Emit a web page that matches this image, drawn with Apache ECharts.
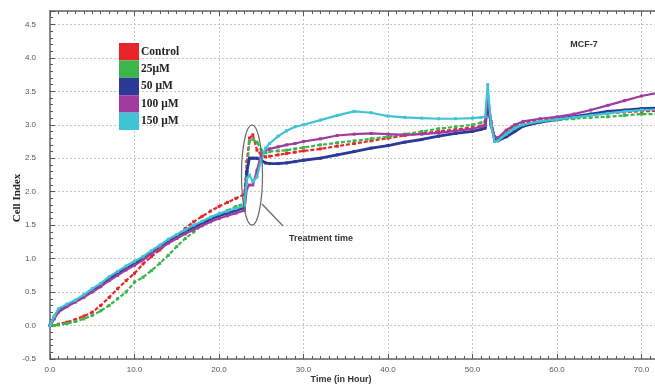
<!DOCTYPE html>
<html><head><meta charset="utf-8">
<script src="https://cdn.jsdelivr.net/npm/echarts@6/dist/echarts.min.js"></script>
<style>html,body{margin:0;padding:0;background:#fff}#c{width:655px;height:385px}</style>
</head><body><div id="c"></div>
<script>
const times = [0,0.5,1,2,3,4,5,6,7,8,9,10,11,12,13,14,15,16,17,18,19,20,21,22,23,23.3,23.6,24,24.5,25,25.5,26,27,28,29,30,32,34,36,38,40,42,44,46,48,50,51,51.5,51.8,52.2,52.6,53,54,55,56,58,60,62,64,66,68,70,72];
const control = [0,0,0.02,0.05,0.09,0.14,0.2,0.3,0.42,0.55,0.67,0.78,0.92,1.03,1.13,1.24,1.34,1.45,1.55,1.63,1.71,1.78,1.84,1.9,1.96,2.45,2.8,2.85,2.62,2.55,2.52,2.53,2.55,2.57,2.59,2.61,2.64,2.68,2.72,2.76,2.8,2.84,2.87,2.9,2.93,2.96,2.98,3.0,3.28,3.0,2.82,2.8,2.9,2.98,3.03,3.07,3.1,3.12,3.15,3.17,3.19,3.2,3.21];
const uM25 = [0,0,0.01,0.03,0.06,0.1,0.15,0.22,0.3,0.4,0.5,0.65,0.72,0.82,0.93,1.05,1.18,1.3,1.4,1.5,1.58,1.66,1.72,1.78,1.82,2.3,2.75,2.78,2.74,2.62,2.58,2.6,2.61,2.62,2.64,2.66,2.7,2.73,2.76,2.79,2.82,2.86,2.9,2.94,2.97,3.0,3.03,3.05,3.3,3.02,2.82,2.8,2.88,2.96,3.0,3.04,3.07,3.09,3.11,3.12,3.14,3.16,3.16];
const uM50 = [0,0.12,0.22,0.3,0.36,0.44,0.52,0.6,0.7,0.78,0.85,0.92,1.0,1.1,1.18,1.27,1.34,1.41,1.47,1.53,1.59,1.64,1.68,1.72,1.76,2.3,2.5,2.5,2.5,2.47,2.43,2.42,2.42,2.43,2.45,2.47,2.5,2.55,2.6,2.65,2.69,2.74,2.78,2.83,2.87,2.9,2.93,2.95,3.38,3.0,2.8,2.76,2.82,2.9,2.98,3.04,3.08,3.12,3.16,3.2,3.22,3.24,3.25];
const uM100 = [0,0.1,0.2,0.28,0.35,0.42,0.5,0.58,0.67,0.75,0.83,0.9,0.98,1.07,1.15,1.23,1.3,1.37,1.43,1.49,1.55,1.6,1.64,1.68,1.72,2.05,2.1,2.1,2.32,2.56,2.62,2.64,2.67,2.7,2.72,2.75,2.79,2.84,2.86,2.87,2.86,2.85,2.86,2.88,2.91,2.94,2.97,2.99,3.42,3.05,2.82,2.8,2.92,3.0,3.05,3.09,3.12,3.16,3.22,3.29,3.36,3.43,3.48];
const uM150 = [0,0.14,0.25,0.32,0.38,0.46,0.55,0.63,0.73,0.81,0.89,0.96,1.03,1.12,1.2,1.29,1.36,1.43,1.5,1.56,1.62,1.67,1.71,1.75,1.79,2.2,2.25,2.15,2.22,2.48,2.65,2.72,2.83,2.91,2.97,3.0,3.07,3.14,3.2,3.18,3.13,3.11,3.1,3.09,3.09,3.1,3.11,3.12,3.6,3.0,2.75,2.76,2.86,2.95,3.0,3.05,3.08,3.11,3.14,3.17,3.2,3.22,3.23];
const seriesNames = ['Control','25\u03bcM','50 \u03bcM','100 \u03bcM','150 \u03bcM'];
const seriesColors = ['#e8262a','#3db54a','#2b3a98','#a03c9e','#3ec4d4'];
const seriesValues = [control, uM25, uM50, uM100, uM150];
const drawOrder = [0,1,4,3,2];

const chart = echarts.init(document.getElementById('c'), null, {renderer:'canvas'});
const pair = v => times.map((t,i)=>[t,v[i]]);
const series = drawOrder.map(k => ({
  name: seriesNames[k], type:'line', data: pair(seriesValues[k]),
  xAxisIndex:0, yAxisIndex:0,
  symbol:'rect', symbolSize:3, showSymbol:true, smooth:false,
  itemStyle:{color:seriesColors[k]},
  lineStyle:{color:seriesColors[k], width: k===2?2.8:2.2, type: (k===0||k===1)?[4,2]:'solid'},
  emphasis:{disabled:true}, z: 2+k
}));
const tickColor = '#555';
const lbl = {fontFamily:'Liberation Sans', fontSize:8, color:'#555'};
chart.setOption({
  animation:false,
  grid:{left:50, right:0, top:11, bottom:26},
  legend:{
    data: seriesNames, orient:'vertical', left:114, top:38, itemWidth:20, itemHeight:17.4, itemGap:0,
    icon:'rect', selectedMode:false,
    textStyle:{fontFamily:'Liberation Serif', fontWeight:'bold', fontSize:11.5, color:'#222', padding:[0,0,0,-3]}
  },
  xAxis:[{
    type:'value', min:0, max:71.6, interval:10, position:'bottom',
    axisLine:{show:true, onZero:false, lineStyle:{color:'#666', width:1.5}},
    axisTick:{show:true, inside:true, length:5, lineStyle:{color:tickColor}},
    minorTick:{show:true, splitNumber:10, length:3, lineStyle:{color:tickColor}},
    axisLabel:{...lbl, margin:7, showMaxLabel:false, formatter:v=>v.toFixed(1)},
    splitLine:{show:true, lineStyle:{color:'#c4c4c4', type:[2,2], width:1}}
  },{
    type:'value', min:0, max:71.6, interval:10, position:'top',
    axisLine:{show:true, onZero:false, lineStyle:{color:'#666', width:1.5}},
    axisTick:{show:true, inside:true, length:5, lineStyle:{color:tickColor}},
    minorTick:{show:true, splitNumber:10, length:3, lineStyle:{color:tickColor}},
    axisLabel:{show:false}, splitLine:{show:false}
  }],
  yAxis:{
    type:'value', min:-0.5, max:4.7, interval:0.5,
    axisLine:{show:true, onZero:false, lineStyle:{color:'#666', width:1.5}},
    axisTick:{show:true, inside:true, length:5, lineStyle:{color:tickColor}},
    minorTick:{show:true, splitNumber:5, length:3, lineStyle:{color:tickColor}},
    axisLabel:{...lbl, margin:14, showMaxLabel:false, formatter:v=>v.toFixed(1)},
    splitLine:{show:true, lineStyle:{color:'#c4c4c4', type:[2,2], width:1}}
  },
  series: series,
  graphic:[
    {type:'text', x:17, y:198, rotation:Math.PI/2, style:{text:'Cell Index', font:'bold 11px "Liberation Serif"', fill:'#222', textAlign:'center', textVerticalAlign:'middle'}},
    {type:'text', x:341, y:380, style:{text:'Time (in Hour)', font:'bold 9px "Liberation Sans"', fill:'#333', textAlign:'center', textVerticalAlign:'middle'}},
    {type:'text', x:584, y:45, style:{text:'MCF-7', font:'bold 9px "Liberation Sans"', fill:'#333', textAlign:'center', textVerticalAlign:'middle'}},
    {type:'ellipse', shape:{cx:252, cy:175, rx:10.5, ry:50}, style:{fill:null, stroke:'#666', lineWidth:1.2}, z:100},
    {type:'line', shape:{x1:262, y1:204, x2:283, y2:226}, style:{stroke:'#666', lineWidth:1.2}, z:100},
    {type:'text', x:321, y:239, style:{text:'Treatment time', font:'bold 9px "Liberation Sans"', fill:'#333', textAlign:'center', textVerticalAlign:'middle'}, z:100}
  ]
});
</script></body></html>
